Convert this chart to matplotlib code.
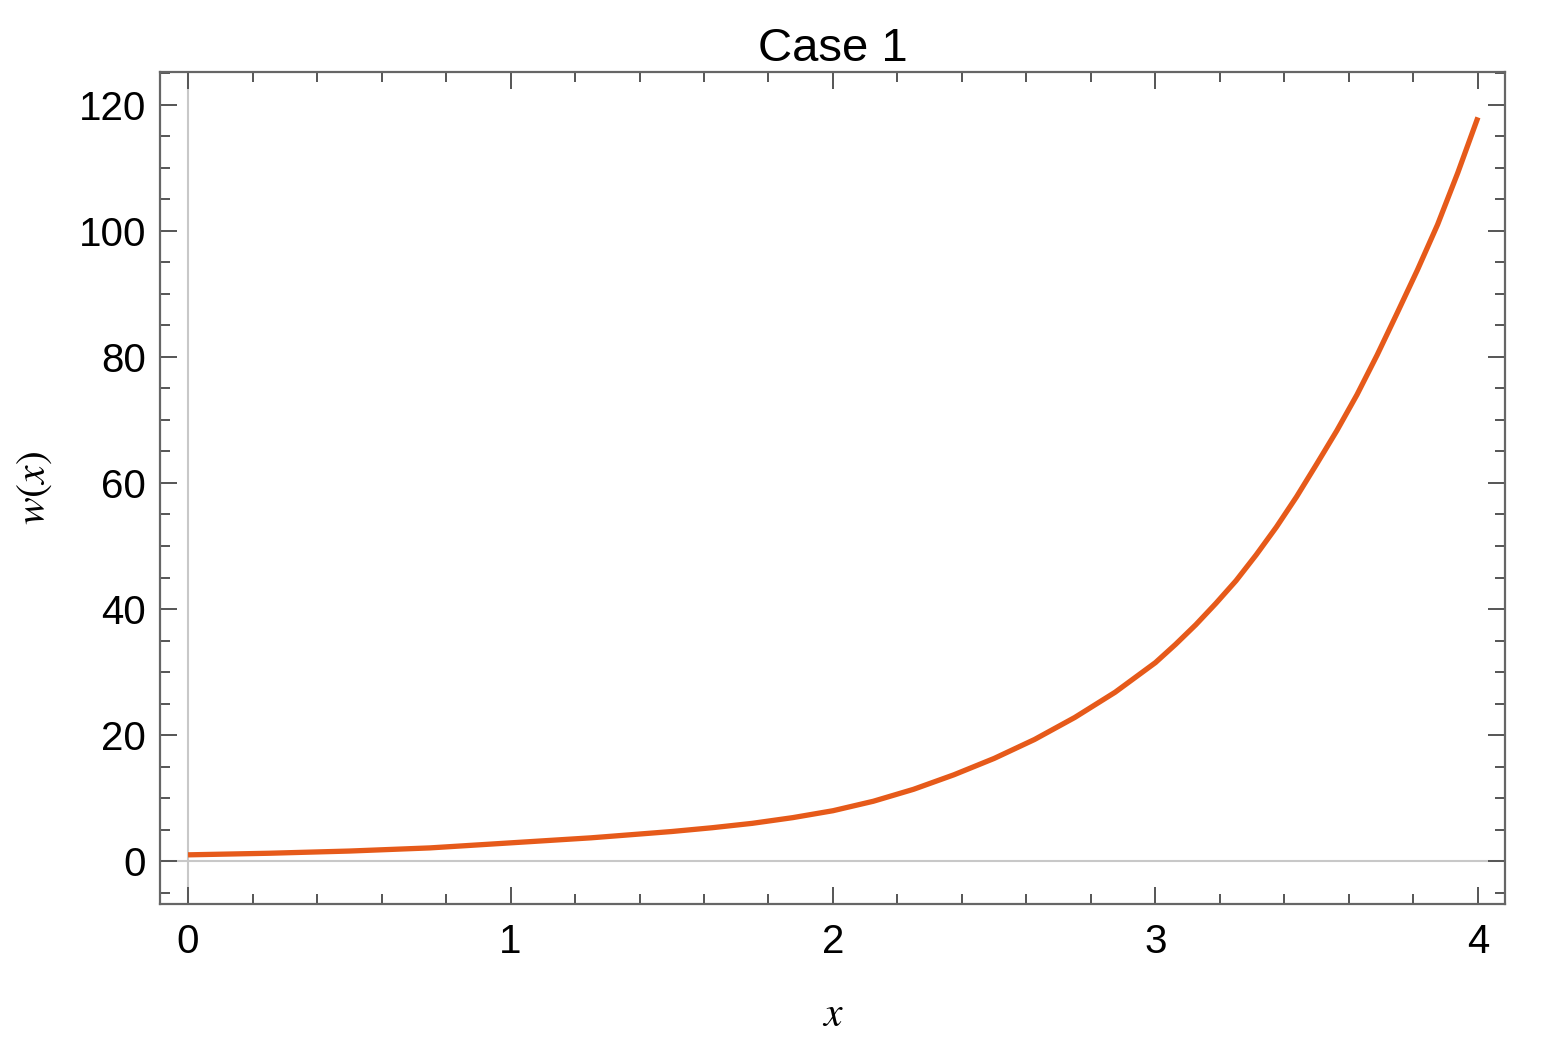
import matplotlib
matplotlib.use("Agg")
import matplotlib.pyplot as plt
from matplotlib.ticker import MultipleLocator

# Data
x_vals = [0.0, 0.25, 0.5, 0.75, 1.0, 1.25, 1.5, 1.625, 1.75, 1.875, 2.0, 2.125, 2.25, 2.375, 2.5,
          2.625, 2.75, 2.875, 3.0, 3.0625, 3.125, 3.1875, 3.25, 3.3125, 3.375,
          3.4375, 3.5, 3.5625, 3.625, 3.6875, 3.75, 3.8125, 3.875, 3.9375, 4.0]
w_vals = [1.0, 1.25, 1.6, 2.1, 2.9, 3.7, 4.7, 5.3, 6.0, 6.9, 8.0, 9.5, 11.4, 13.7, 16.3,
          19.3, 22.8, 26.8, 31.5, 34.4, 37.5, 40.9, 44.5, 48.6, 53.0,
          57.8, 63.0, 68.3, 74.0, 80.3, 87.0, 93.8, 101.0, 109.2, 118.0]

title = "Case 1"
xlabel = "$x$"
ylabel = "$w(x)$"
x_major = [0, 1, 2, 3, 4]
y_major = [0, 20, 40, 60, 80, 100, 120]

plt.rcParams['mathtext.fontset'] = 'stix'
plt.rcParams['font.family'] = ['Liberation Sans', 'DejaVu Sans']

fig = plt.figure(figsize=(15.44, 10.42), dpi=100)
ax = fig.add_axes([160/1544, 1-904/1042, (1505-160)/1544, (904-72)/1042])

ax.axhline(0, color='#c8c8c8', lw=1.5, zorder=1)
ax.axvline(0, color='#c8c8c8', lw=1.5, zorder=1)
ax.plot(x_vals, w_vals, color='#E65A1A', lw=3.8, solid_capstyle='butt',
        solid_joinstyle='round', zorder=3)

ax.set_xlim(-0.087, 4.084)
ax.set_ylim(-6.8, 125.2)
ax.set_xticks(x_major)
ax.set_yticks(y_major)
ax.xaxis.set_minor_locator(MultipleLocator(0.2))
ax.yaxis.set_minor_locator(MultipleLocator(5))

for s in ax.spines.values():
    s.set_color('#666666')
    s.set_linewidth(1.6)

ax.tick_params(which='both', direction='in', top=True, right=True, color='#555555', width=1.4)
ax.tick_params(which='major', length=12, labelsize=29, pad=14)
ax.tick_params(which='minor', length=7)
ax.tick_params(axis='y', which='major', pad=10)

ax.set_title(title, fontsize=34, pad=8)
ax.set_xlabel(xlabel, fontsize=30, labelpad=24)
ax.set_ylabel(ylabel, fontsize=30, labelpad=18)

fig.savefig("out.png", dpi=100)
